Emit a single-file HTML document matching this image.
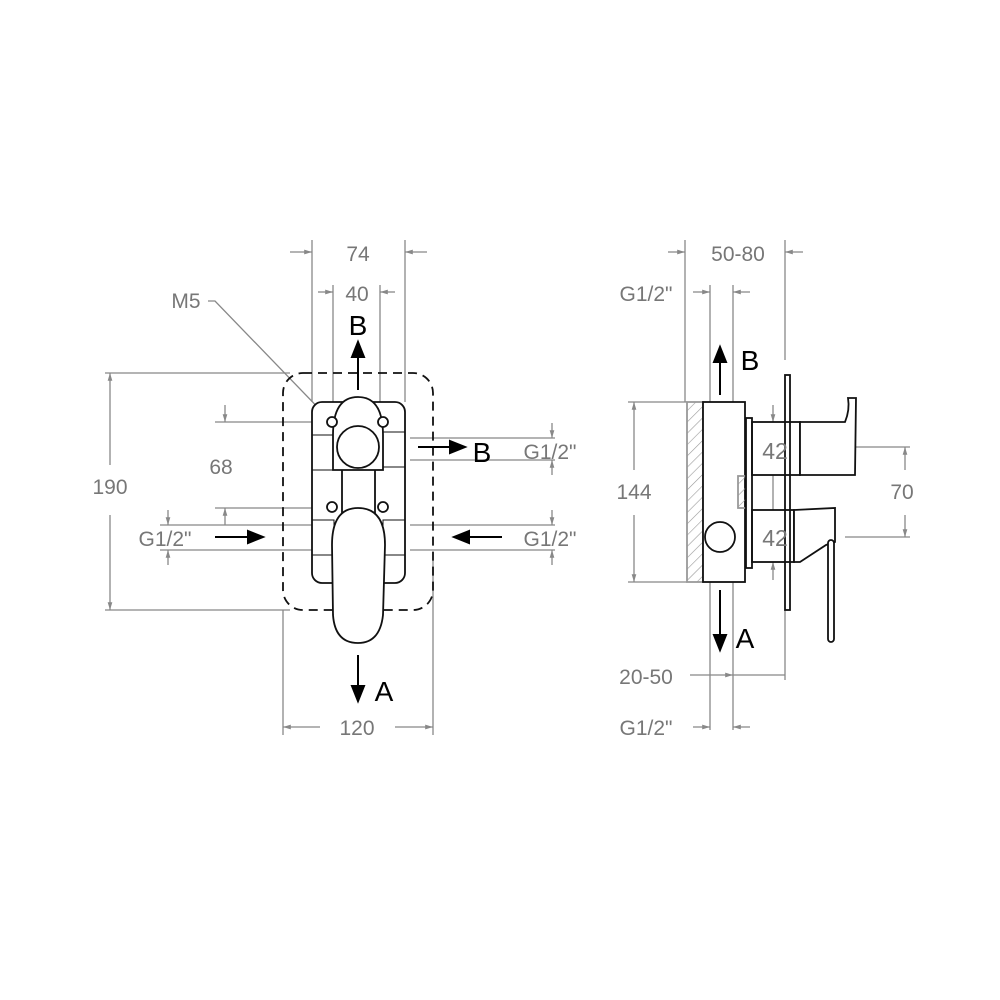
<!DOCTYPE html>
<html><head><style>body{margin:0;background:#fff}svg{display:block}</style></head><body>
<svg width="1000" height="1000" viewBox="0 0 1000 1000" xmlns="http://www.w3.org/2000/svg">
<defs>
<marker id="t" viewBox="0 0 10 10" refX="10" refY="5" markerWidth="6" markerHeight="6" orient="auto-start-reverse"><path d="M0,2 L10,5 L0,8z" fill="#888"/></marker>
<pattern id="h" width="8" height="8" patternUnits="userSpaceOnUse" patternTransform="rotate(45)"><line x1="0" y1="0" x2="0" y2="8" stroke="#999" stroke-width="1.2"/></pattern>
</defs>
<g stroke="#888" stroke-width="1.3" fill="none">
<line x1="312" y1="240" x2="312" y2="402"/><line x1="405" y1="240" x2="405" y2="402"/>
<line x1="290" y1="252" x2="312" y2="252" marker-end="url(#t)"/><line x1="427" y1="252" x2="405" y2="252" marker-end="url(#t)"/>
<line x1="333" y1="285" x2="333" y2="420"/><line x1="380" y1="285" x2="380" y2="420"/>
<line x1="318" y1="292" x2="333" y2="292" marker-end="url(#t)"/><line x1="395" y1="292" x2="380" y2="292" marker-end="url(#t)"/>
<polyline points="208,301 215,301 330,420"/>
<line x1="105" y1="373" x2="290" y2="373"/><line x1="105" y1="610" x2="290" y2="610"/>
<line x1="110" y1="465" x2="110" y2="373" marker-end="url(#t)"/><line x1="110" y1="515" x2="110" y2="610" marker-end="url(#t)"/>
<line x1="215" y1="422" x2="330" y2="422"/><line x1="215" y1="508" x2="330" y2="508"/>
<line x1="225" y1="405" x2="225" y2="422" marker-end="url(#t)"/><line x1="225" y1="525" x2="225" y2="508" marker-end="url(#t)"/>
<line x1="160" y1="525" x2="315" y2="525"/><line x1="160" y1="550" x2="315" y2="550"/>
<line x1="168" y1="510" x2="168" y2="525" marker-end="url(#t)"/><line x1="168" y1="565" x2="168" y2="550" marker-end="url(#t)"/>
<line x1="410" y1="438" x2="555" y2="438"/><line x1="410" y1="460" x2="555" y2="460"/>
<line x1="552" y1="423" x2="552" y2="438" marker-end="url(#t)"/><line x1="552" y1="475" x2="552" y2="460" marker-end="url(#t)"/>
<line x1="410" y1="525" x2="555" y2="525"/><line x1="410" y1="550" x2="555" y2="550"/>
<line x1="552" y1="510" x2="552" y2="525" marker-end="url(#t)"/><line x1="552" y1="565" x2="552" y2="550" marker-end="url(#t)"/>
<line x1="283" y1="610" x2="283" y2="735"/><line x1="433" y1="560" x2="433" y2="735"/>
<line x1="320" y1="727" x2="283" y2="727" marker-end="url(#t)"/><line x1="395" y1="727" x2="433" y2="727" marker-end="url(#t)"/>
<line x1="685" y1="240" x2="685" y2="402"/><line x1="785" y1="240" x2="785" y2="360"/>
<line x1="668" y1="252" x2="685" y2="252" marker-end="url(#t)"/><line x1="803" y1="252" x2="785" y2="252" marker-end="url(#t)"/>
<line x1="710" y1="285" x2="710" y2="402"/><line x1="733" y1="285" x2="733" y2="402"/>
<line x1="693" y1="292" x2="710" y2="292" marker-end="url(#t)"/><line x1="750" y1="292" x2="733" y2="292" marker-end="url(#t)"/>
<line x1="628" y1="402" x2="687" y2="402"/><line x1="628" y1="582" x2="687" y2="582"/>
<line x1="634" y1="470" x2="634" y2="402" marker-end="url(#t)"/><line x1="634" y1="515" x2="634" y2="582" marker-end="url(#t)"/>
<line x1="855" y1="447" x2="910" y2="447"/><line x1="845" y1="537" x2="910" y2="537"/>
<line x1="905" y1="470" x2="905" y2="447" marker-end="url(#t)"/><line x1="905" y1="515" x2="905" y2="537" marker-end="url(#t)"/>
<line x1="773" y1="405" x2="773" y2="422" marker-end="url(#t)"/>
<line x1="773" y1="475" x2="773" y2="510"/>
<line x1="773" y1="580" x2="773" y2="562" marker-end="url(#t)"/>
<line x1="710" y1="582" x2="710" y2="730"/><line x1="733" y1="582" x2="733" y2="730"/>
<line x1="785" y1="610" x2="785" y2="680"/>
<line x1="690" y1="675" x2="733" y2="675" marker-end="url(#t)"/><line x1="733" y1="675" x2="785" y2="675"/>
<line x1="693" y1="727" x2="710" y2="727" marker-end="url(#t)"/><line x1="750" y1="727" x2="733" y2="727" marker-end="url(#t)"/>
</g>
<g stroke="#111" stroke-width="1.8" fill="#fff">
<rect x="283" y="373" width="150" height="237" rx="20" stroke-dasharray="9,6" fill="none"/>
<rect x="312" y="402" width="93" height="181" rx="10"/>
<rect x="312" y="435" width="22" height="35" fill="none" stroke-width="1"/>
<rect x="383" y="432" width="22" height="35" fill="none" stroke-width="1"/>
<rect x="312" y="520" width="22" height="35" fill="none" stroke-width="1"/>
<rect x="383" y="520" width="22" height="35" fill="none" stroke-width="1"/>
<rect x="342" y="460" width="33" height="55"/>
<path d="M333,435 Q333,397 358,397 Q383,397 383,435 L383,470 L333,470 Z"/>
<circle cx="358" cy="447" r="21"/>
<circle cx="332" cy="422" r="5"/><circle cx="383" cy="422" r="5"/>
<circle cx="332" cy="507" r="5"/><circle cx="383" cy="507" r="5"/>
<path d="M332,545 Q332,508 358,508 Q385,508 385,545 L383,615 Q380,643 358,643 Q335,643 333,615 Z"/>
</g>
<g stroke="#000" stroke-width="2" fill="#000">
<line x1="358" y1="390" x2="358" y2="355"/><path d="M352,357 L358,342 L364,357z"/>
<line x1="418" y1="447" x2="452" y2="447"/><path d="M450,441 L465,447 L450,453z"/>
<line x1="215" y1="537" x2="250" y2="537"/><path d="M248,531 L263,537 L248,543z"/>
<line x1="502" y1="537" x2="467" y2="537"/><path d="M469,531 L454,537 L469,543z"/>
<line x1="358" y1="655" x2="358" y2="688"/><path d="M352,686 L358,701 L364,686z"/>
<line x1="720" y1="395" x2="720" y2="360"/><path d="M714,362 L720,347 L726,362z"/>
<line x1="720" y1="590" x2="720" y2="637"/><path d="M714,635 L720,650 L726,635z"/>
</g>
<g stroke="#111" stroke-width="1.8" fill="#fff">
<rect x="687" y="402" width="16" height="180" fill="url(#h)" stroke="#999"/>
<rect x="703" y="402" width="42" height="180"/>
<rect x="738" y="476" width="10" height="32" fill="url(#h)" stroke="#999"/>
<rect x="785" y="375" width="5" height="235"/>
<rect x="746" y="418" width="6" height="150"/>
<rect x="752" y="422" width="48" height="53" fill="none"/>
<rect x="752" y="510" width="42" height="52" fill="none"/>
<path d="M800,422 L845,422 Q850,410 848,398 L856,398 L855,475 L800,475 Z"/>
<path d="M794,510 L835,508 L835,542 L826,545 L800,562 L794,562 Z"/>
<rect x="828" y="540" width="6" height="102" rx="3"/>
<circle cx="720" cy="537" r="15"/>
</g>
<g font-family="Liberation Sans, sans-serif" font-size="21" fill="#777" text-anchor="middle">
<text x="358" y="261">74</text>
<text x="357" y="301">40</text>
<text x="186" y="308">M5</text>
<text x="110" y="494">190</text>
<text x="221" y="474">68</text>
<text x="165" y="546">G1/2"</text>
<text x="550" y="459">G1/2"</text>
<text x="550" y="546">G1/2"</text>
<text x="357" y="735">120</text>
<text x="738" y="261">50-80</text>
<text x="646" y="301">G1/2"</text>
<text x="634" y="499">144</text>
<text x="775" y="459" font-size="23">42</text>
<text x="775" y="546" font-size="23">42</text>
<text x="902" y="499">70</text>
<text x="646" y="684">20-50</text>
<text x="646" y="735">G1/2"</text>
</g>
<g font-family="Liberation Sans, sans-serif" font-size="28" fill="#000" text-anchor="middle">
<text x="358" y="335">B</text>
<text x="482" y="462">B</text>
<text x="384" y="701">A</text>
<text x="750" y="370">B</text>
<text x="745" y="648">A</text>
</g>
</svg>
</body></html>
